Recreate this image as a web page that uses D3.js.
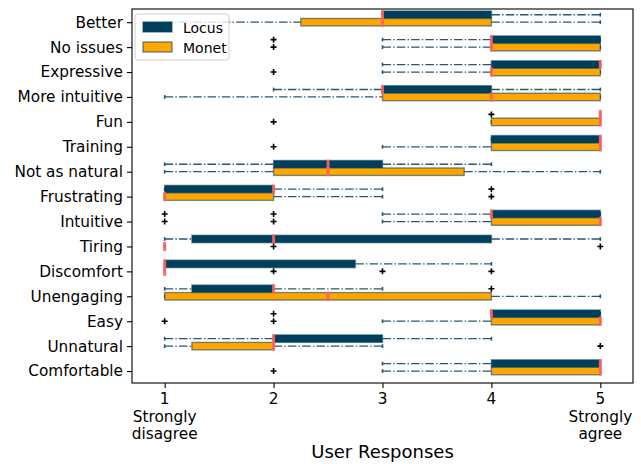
<!DOCTYPE html>
<html>
<head>
<meta charset="utf-8">
<script src="https://cdn.jsdelivr.net/npm/d3@7"></script>
<style>
  body { margin: 0; background: #fff; }
  text { font-family: "DejaVu Sans", sans-serif; fill: #000; }
</style>
</head>
<body>
<script>
// categories, top to bottom
var categories = ["Better", "No issues", "Expressive", "More intuitive", "Fun", "Training",
  "Not as natural", "Frustrating", "Intuitive", "Tiring", "Discomfort", "Unengaging",
  "Easy", "Unnatural", "Comfortable"];

var seriesNames = ["Locus", "Monet"];
var xTicks = [1, 2, 3, 4, 5];
var xTickLabels = ["1\nStrongly\ndisagree", "2", "3", "4", "5\nStrongly\nagree"];

// Locus box stats (whisker low, q1, median, q3, whisker high, outliers)
var locusLo  = [3, 3, 3, 2, 5, 4, 1, 1, 3, 1, 1, 1, 4, 1, 3];
var locusQ1  = [3, 4, 4, 3, 5, 4, 2, 1, 4, 1.25, 1, 1.25, 4, 2, 4];
var locusMed = [3, 4, 5, 3, 5, 5, 2.5, 2, 4, 2, 1, 2, 4, 2, 5];
var locusQ3  = [4, 5, 5, 4, 5, 5, 3, 2, 5, 4, 2.75, 2, 5, 3, 5];
var locusHi  = [5, 5, 5, 5, 5, 5, 4, 3, 5, 5, 4, 3, 5, 4, 5];
var locusOut = [[], [2], [], [], [4], [], [], [4], [1, 2], [], [], [4], [2], [], []];

// Monet box stats
var monetLo  = [1, 3, 3, 1, 4, 3, 1, 1, 3, 1, 1, 1, 3, 1, 3];
var monetQ1  = [2.25, 4, 4, 3, 4, 4, 2, 1, 4, 1, 1, 1, 4, 1.25, 4];
var monetMed = [3, 4, 4, 4, 5, 5, 2.5, 1, 5, 1, 1, 2.5, 5, 2, 5];
var monetQ3  = [4, 5, 5, 5, 5, 5, 3.75, 2, 5, 1, 1, 4, 5, 2, 5];
var monetHi  = [5, 5, 5, 5, 5, 5, 5, 3, 5, 1, 1, 5, 5, 3, 5];
var monetOut = [[], [2], [2], [], [2], [2], [], [4], [1, 2], [2, 5], [2, 3, 4], [], [1, 2], [5], [2]];

var colors = ["#003f5c", "#ffa600"];
var offsets = [-0.3, 0];
var halfH = 0.15;

var svg = d3.select("body").append("svg")
  .attr("width", 641)
  .attr("height", 464);

var x = d3.scaleLinear().domain([0.7, 5.3]).range([132, 633]);
var y = d3.scaleLinear().domain([-0.53, 14.48]).range([9, 383]);

// build rows for each series
var makeRows = function(lo, q1, med, q3, hi, out){
  return categories.map(function(c, i){
    return {i: i, lo: lo[i], q1: q1[i], med: med[i], q3: q3[i], hi: hi[i], out: out[i]};
  });
};
var series = [
  makeRows(locusLo, locusQ1, locusMed, locusQ3, locusHi, locusOut),
  makeRows(monetLo, monetQ1, monetMed, monetQ3, monetHi, monetOut)
];

var plot = svg.append("g");

series.forEach(function(rows, s){
  var off = offsets[s];
  var g = plot.append("g");
  var cy = function(d){ return y(d.i + off); };

  // whiskers
  g.selectAll(".wlo").data(rows).enter().append("line")
    .attr("x1", function(d){ return x(d.lo); })
    .attr("x2", function(d){ return x(d.q1); })
    .attr("y1", cy).attr("y2", cy)
    .attr("stroke", "#2b5670").attr("stroke-width", 1.3)
    .attr("stroke-dasharray", "8.5,2.2,1.4,2.2");
  g.selectAll(".whi").data(rows).enter().append("line")
    .attr("x1", function(d){ return x(d.q3); })
    .attr("x2", function(d){ return x(d.hi); })
    .attr("y1", cy).attr("y2", cy)
    .attr("stroke", "#2b5670").attr("stroke-width", 1.3)
    .attr("stroke-dasharray", "8.5,2.2,1.4,2.2");

  // caps
  rows.forEach(function(d){
    [d.lo, d.hi].forEach(function(v){
      g.append("line")
        .attr("x1", x(v)).attr("x2", x(v))
        .attr("y1", y(d.i + off - halfH / 2)).attr("y2", y(d.i + off + halfH / 2))
        .attr("stroke", "#2b5670").attr("stroke-width", 1.6);
    });
  });

  // boxes
  g.selectAll("rect").data(rows).enter().append("rect")
    .attr("x", function(d){ return x(d.q1); })
    .attr("width", function(d){ return x(d.q3) - x(d.q1); })
    .attr("y", function(d){ return y(d.i + off - halfH); })
    .attr("height", y(halfH * 2) - y(0))
    .attr("fill", colors[s])
    .attr("stroke", "#003f5c")
    .attr("stroke-opacity", 0.55)
    .attr("stroke-width", 1.4);
});

// medians and outliers on top
series.forEach(function(rows, s){
  var off = offsets[s];
  plot.append("g").selectAll("line").data(rows).enter().append("line")
    .attr("x1", function(d){ return x(d.med); })
    .attr("x2", function(d){ return x(d.med); })
    .attr("y1", function(d){ return y(d.i + off - halfH) - 0.8; })
    .attr("y2", function(d){ return y(d.i + off + halfH) + 0.8; })
    .attr("stroke", "#ff6361").attr("stroke-opacity", 0.9)
    .attr("stroke-width", 3);

  var pts = [];
  rows.forEach(function(d){
    d.out.forEach(function(v){ pts.push({v: v, i: d.i}); });
  });
  plot.append("g").selectAll("path").data(pts).enter().append("path")
    .attr("transform", function(d){ return "translate(" + x(d.v) + "," + y(d.i + off) + ")"; })
    .attr("d", "M-3,0H3M0,-3V3")
    .attr("stroke", "#000").attr("stroke-width", 1.6);
});

// frame
svg.append("rect")
  .attr("x", 132).attr("y", 9)
  .attr("width", 501).attr("height", 374)
  .attr("fill", "none").attr("stroke", "#000").attr("stroke-width", 1.1);

// x axis
var xAxis = svg.append("g")
  .attr("transform", "translate(0,383)")
  .call(d3.axisBottom(x).tickValues(xTicks).tickSize(5).tickFormat(""));
xAxis.select(".domain").remove();
xAxis.selectAll("line").attr("stroke", "#000").attr("stroke-width", 1.1);
xTicks.forEach(function(t, k){
  var lines = xTickLabels[k].split("\n");
  var txt = svg.append("text")
    .attr("x", x(t)).attr("y", 404)
    .attr("text-anchor", "middle")
    .style("font-size", "15.3px");
  lines.forEach(function(l, j){
    txt.append("tspan").attr("x", x(t)).attr("dy", j === 0 ? 0 : 17.5).text(l);
  });
});

// y axis
var yAxis = svg.append("g")
  .attr("transform", "translate(132,0)")
  .call(d3.axisLeft(y).tickValues(d3.range(categories.length))
    .tickSize(5).tickPadding(4)
    .tickFormat(function(i){ return categories[i]; }));
yAxis.select(".domain").remove();
yAxis.selectAll("line").attr("stroke", "#000").attr("stroke-width", 1.1);
yAxis.selectAll("text")
  .attr("fill", "#000")
  .style("font-family", "DejaVu Sans")
  .style("font-size", "15.3px");

// axis label
svg.append("text")
  .attr("x", 382.5).attr("y", 458)
  .attr("text-anchor", "middle")
  .style("font-size", "18px")
  .text("User Responses");

// legend
var legend = svg.append("g");
legend.append("rect")
  .attr("x", 135).attr("y", 14)
  .attr("width", 94).attr("height", 46)
  .attr("rx", 3)
  .attr("fill", "#fff").attr("fill-opacity", 0.8)
  .attr("stroke", "#d0d0d0");
seriesNames.forEach(function(n, k){
  legend.append("rect")
    .attr("x", 143).attr("y", 22 + k * 20)
    .attr("width", 29).attr("height", 10)
    .attr("fill", colors[k])
    .attr("stroke", "#003f5c").attr("stroke-opacity", 0.55).attr("stroke-width", 1.4);
  legend.append("text")
    .attr("x", 183).attr("y", 32.5 + k * 20)
    .style("font-size", "14px")
    .text(n);
});
</script>
</body>
</html>
